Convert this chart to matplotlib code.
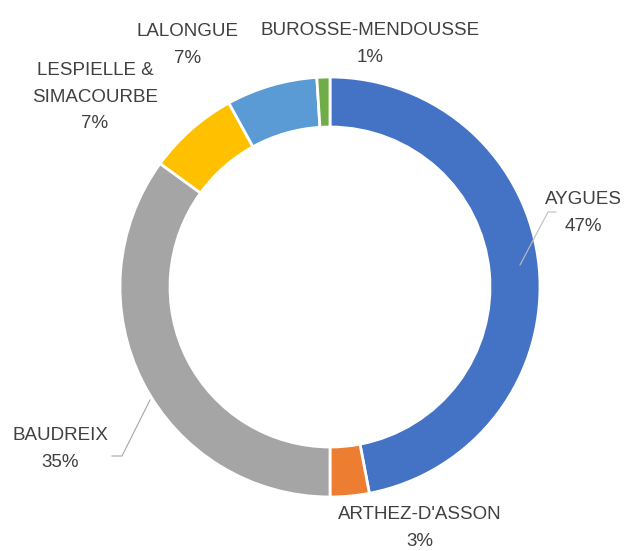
import matplotlib.pyplot as plt

plt.rcParams['font.family'] = ['Liberation Sans Narrow', 'Liberation Sans', 'DejaVu Sans']

# data, clockwise from 12 o'clock
communes = ['AYGUES', "ARTHEZ-D'ASSON", 'BAUDREIX', 'LESPIELLE &\nSIMACOURBE', 'LALONGUE', 'BUROSSE-MENDOUSSE']
shares = [47, 3, 35, 7, 7, 1]
colors = ['#4472C4', '#ED7D31', '#A5A5A5', '#FFC000', '#5B9BD5', '#70AD47']

# label anchor points in pixel space (x, y from top)
label_pos = [(583, 213), (420, 528), (60, 449), (95, 97), (188, 45), (370, 44)]

W, H = 636, 551
fig = plt.figure(figsize=(W / 100, H / 100), dpi=100)
ax = fig.add_axes([0, 0, 1, 1])

cx, cy, R = 330, H - 287, 210
ax.pie(shares, colors=colors, startangle=90, counterclock=False,
       center=(cx, cy), radius=R, frame=True,
       wedgeprops=dict(width=50, edgecolor='white', linewidth=2))
ax.set_xlim(0, W)
ax.set_ylim(0, H)
ax.set_aspect('equal')
ax.axis('off')

total = sum(shares)
for name, val, (x, y) in zip(communes, shares, label_pos):
    ax.text(x, H - y, f'{name}\n{round(100 * val / total)}%', ha='center', va='center',
            fontsize=13.5, color='#404040', linespacing=1.7)

# leader lines
ax.plot([556, 548, 520], [H - 212, H - 212, H - 265], color='#BFBFBF', lw=0.8)
ax.plot([112, 122, 150], [H - 456, H - 456, H - 400], color='#A6A6A6', lw=0.8)

fig.savefig('out.png', dpi=100, facecolor='white')
